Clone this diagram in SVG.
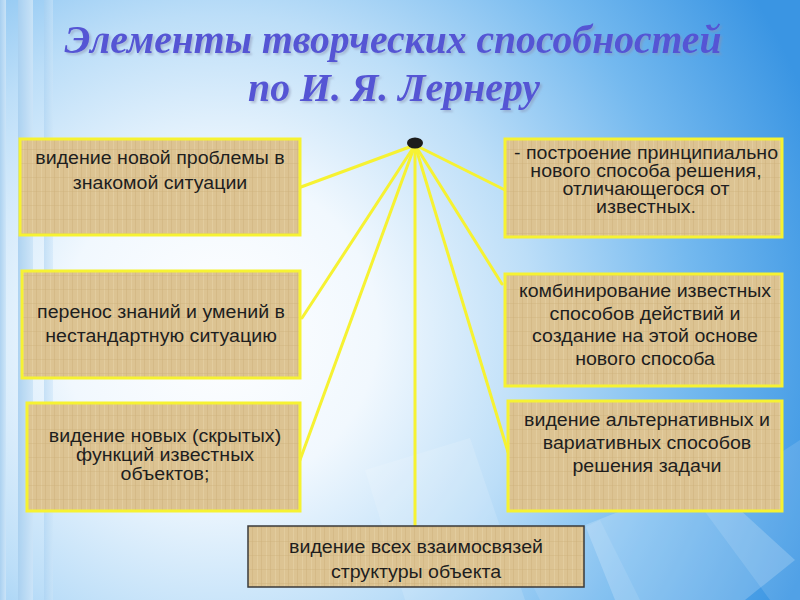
<svg xmlns="http://www.w3.org/2000/svg" width="800" height="600" viewBox="0 0 800 600">
<defs>
<radialGradient id="bg" gradientUnits="userSpaceOnUse" cx="220" cy="330" r="630">
<stop offset="0" stop-color="#ffffff"/>
<stop offset="0.25" stop-color="#f1f8fe"/>
<stop offset="0.5" stop-color="#bcdef8"/>
<stop offset="0.75" stop-color="#74b9ef"/>
<stop offset="1" stop-color="#3a95e3"/>
</radialGradient>
<linearGradient id="stripe" x1="0" y1="0" x2="1" y2="0">
<stop offset="0" stop-color="#a9d0f0"/>
<stop offset="1" stop-color="#cde5f8"/>
</linearGradient>
<pattern id="papyrus" width="9" height="14" patternUnits="userSpaceOnUse">
<rect width="9" height="14" fill="#dcc392"/>
<rect x="0" width="1" height="14" fill="#cdb07a" opacity="0.45"/>
<rect x="5" width="1" height="14" fill="#e6d2a6" opacity="0.6"/>
<rect y="9" width="9" height="1" fill="#cbae79" opacity="0.35"/>
</pattern>
<filter id="shadow" x="-5%" y="-20%" width="110%" height="150%">
<feDropShadow dx="2" dy="2" stdDeviation="1" flood-color="#8890b0" flood-opacity="0.5"/>
</filter>
<style>
.box{fill:url(#papyrus);stroke:#f6f232;stroke-width:3}
.box2{fill:url(#papyrus);stroke:#3a3a3a;stroke-width:1.5}
.t{font-family:"Liberation Sans",Arial,sans-serif;font-size:17.5px;fill:#1e1e1e;text-anchor:middle}
.title{font-family:"Liberation Serif","Times New Roman",serif;font-weight:bold;font-style:italic;font-size:40px;fill:#5454d4}
.con{stroke:#f6f232;stroke-width:3;fill:none;stroke-linecap:round}
</style>
</defs>

<rect width="800" height="600" fill="url(#bg)"/>
<g opacity="0.9">
<rect x="0" y="0" width="6" height="600" fill="url(#stripe)"/>
<rect x="18" y="0" width="15" height="600" fill="url(#stripe)"/>
<rect x="44" y="0" width="9" height="600" fill="url(#stripe)" opacity="0.6"/>
</g>
<g fill="#ffffff">
<polygon points="365,470 470,438 525,600 405,600" opacity="0.14"/>
<polygon points="585,525 705,478 795,560 745,600 615,600" opacity="0.2"/>
<polygon points="700,505 800,440 800,600 770,600" opacity="0.12"/>
<polygon points="520,560 600,520 640,600 540,600" opacity="0.1"/>
</g>

<g id="title" filter="url(#shadow)">
<text class="title" x="393" y="53" text-anchor="middle" textLength="657" lengthAdjust="spacingAndGlyphs">Элементы творческих способностей</text>
<text class="title" x="394" y="101" text-anchor="middle" textLength="292" lengthAdjust="spacingAndGlyphs">по И. Я. Лернеру</text>
</g>

<g id="connectors">
<line class="con" x1="415" y1="145" x2="301" y2="187"/>
<line class="con" x1="415" y1="145" x2="302" y2="318"/>
<line class="con" x1="415" y1="145" x2="300" y2="460"/>
<line class="con" x1="415" y1="145" x2="415" y2="526"/>
<line class="con" x1="415" y1="145" x2="505" y2="190"/>
<line class="con" x1="415" y1="145" x2="502" y2="284"/>
<line class="con" x1="415" y1="145" x2="508" y2="452"/>
</g>

<g id="hub">
<ellipse cx="415" cy="143" rx="8" ry="5.5" fill="#1c1c1c"/>
</g>

<g id="n1">
<rect class="box" x="20" y="139" width="280" height="96"/>
<g transform="translate(160 0) scale(1.12 1)">
<text class="t" x="0" y="164">видение новой проблемы в</text>
<text class="t" x="0" y="189">знакомой ситуации</text>
</g>
</g>

<g id="n2">
<rect class="box" x="22" y="271" width="278" height="107"/>
<g transform="translate(161 0) scale(1.12 1)">
<text class="t" x="0" y="318">перенос знаний и умений в</text>
<text class="t" x="0" y="342">нестандартную ситуацию</text>
</g>
</g>

<g id="n3">
<rect class="box" x="27" y="403" width="273" height="108"/>
<g transform="translate(165 0) scale(1.12 1)">
<text class="t" x="0" y="442">видение новых (скрытых)</text>
<text class="t" x="0" y="461">функций известных</text>
<text class="t" x="0" y="480">объектов;</text>
</g>
</g>

<g id="n4">
<rect class="box" x="505" y="139" width="277" height="98"/>
<g transform="translate(646 0) scale(1.12 1)">
<text class="t" x="0" y="159">- построение принципиально</text>
<text class="t" x="0" y="177">нового способа решения,</text>
<text class="t" x="0" y="195">отличающегося от</text>
<text class="t" x="0" y="213">известных.</text>
</g>
</g>

<g id="n5">
<rect class="box" x="505" y="274" width="277" height="112"/>
<g transform="translate(645 0) scale(1.12 1)">
<text class="t" x="0" y="297">комбинирование известных</text>
<text class="t" x="0" y="320">способов действий и</text>
<text class="t" x="0" y="342">создание на этой основе</text>
<text class="t" x="0" y="365">нового способа</text>
</g>
</g>

<g id="n6">
<rect class="box" x="508" y="401" width="274" height="110"/>
<g transform="translate(647 0) scale(1.12 1)">
<text class="t" x="0" y="426">видение альтернативных и</text>
<text class="t" x="0" y="449">вариативных способов</text>
<text class="t" x="0" y="472">решения задачи</text>
</g>
</g>

<g id="n7">
<rect class="box2" x="248" y="526" width="336" height="61"/>
<g transform="translate(416 0) scale(1.12 1)">
<text class="t" x="0" y="553">видение всех взаимосвязей</text>
<text class="t" x="0" y="578">структуры объекта</text>
</g>
</g>
</svg>
